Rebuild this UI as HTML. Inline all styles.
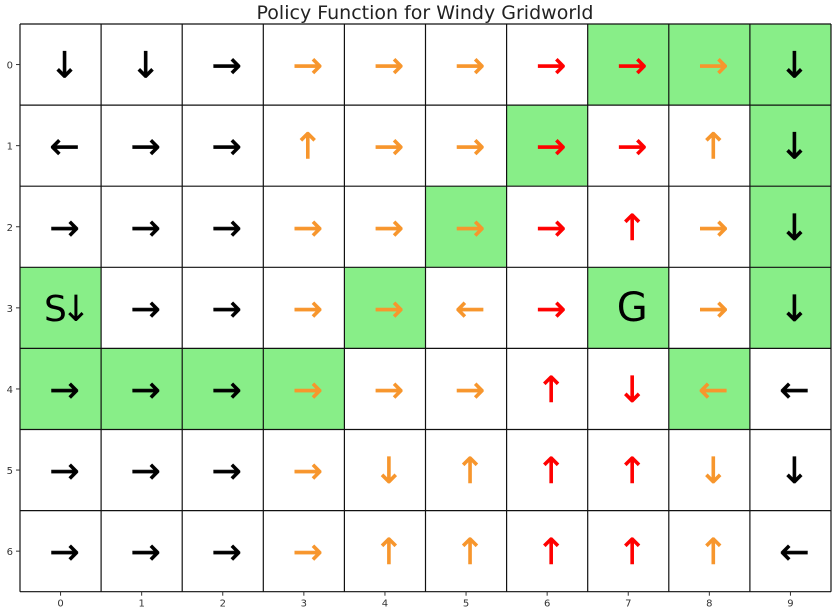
<!DOCTYPE html>
<html><head><meta charset="utf-8"><style>
html,body{margin:0;padding:0;background:#fff;}
svg{display:block;font-family:"DejaVu Sans","Liberation Sans",sans-serif;}
</style></head><body>
<svg id="chart" width="837" height="614">
<text x="425" y="19" text-anchor="middle" font-size="19" fill="#222">Policy Function for Windy Gridworld</text>
<g id="cells"></g>
<g id="grid"></g>
<g id="ticks"></g>
</svg>
<script>
const policy = [
 "DDRRRRRRRD",
 "LRRURRRRUD",
 "RRRRRRRURD",
 "SRRRRLRGRD",
 "RRRRRRUDLL",
 "RRRRDUUUDD",
 "RRRRUUUUUL"
];
const greenCells = [[0,7],[0,8],[0,9],[1,6],[1,9],[2,5],[2,9],[3,0],[3,4],[3,7],[3,9],[4,0],[4,1],[4,2],[4,3],[4,8]];
const windColumns = [0,0,0,1,1,1,2,2,1,0];
const colLabels = ["0","1","2","3","4","5","6","7","8","9"];
const rowLabels = ["0","1","2","3","4","5","6"];

const X0=20,Y0=24,CW=81.1,CH=81.1;
const xs=c=>X0+c*CW, ys=r=>Y0+r*CH;
const NS="http://www.w3.org/2000/svg";
const glyph={U:"↑",D:"↓",L:"←",R:"→"};
const colors=["#000","#f7962d","#ff0000"];
const cells=document.getElementById('cells'),grid=document.getElementById('grid'),ticks=document.getElementById('ticks');
function mk(t,a,p){const e=document.createElementNS(NS,t);for(const k in a)e.setAttribute(k,a[k]);p.appendChild(e);return e;}
greenCells.forEach(([r,c])=>{
 const e=mk('rect',{x:xs(c),y:ys(r),width:CW,height:CH,fill:'#88ee88'},cells);
 
 
});
policy.forEach((row,r)=>{
 [...row].forEach((ch,c)=>{
  const cx=xs(c)+CW/2, cy=ys(r)+CH/2;
  let txt,fill=colors[windColumns[c]],size=36,ls=0,sw=0.6;
  if(ch==='S'){txt='S↓';fill='#000';ls=-6;sw=0;}
  else if(ch==='G'){txt='G';fill='#000';size=40;sw=0;}
  else txt=glyph[ch];
  const e=mk('text',{x:cx+4,y:cy+13,'text-anchor':'middle','font-size':size,fill:fill,stroke:fill,'stroke-width':sw,'letter-spacing':ls},cells);
  e.textContent=txt;
  
  
 });
});
for(let c=0;c<=10;c++){const l=mk('line',{x1:xs(c),x2:xs(c),y1:Y0,y2:ys(7),stroke:'#111','stroke-width':1.2},grid);}
for(let r=0;r<=7;r++){const l=mk('line',{x1:X0,x2:xs(10),y1:ys(r),y2:ys(r),stroke:'#111','stroke-width':1.2},grid);}
colLabels.forEach((t,i)=>{
 const x=xs(i)+CW/2;
 mk('line',{x1:x,x2:x,y1:ys(7),y2:ys(7)+4,stroke:'#333'},ticks);
 const e=mk('text',{x:x,y:ys(7)+15,'text-anchor':'middle','font-size':10,fill:'#333'},ticks);
 e.textContent=t;
 
 
});
rowLabels.forEach((t,i)=>{
 const y=ys(i)+CH/2;
 mk('line',{x1:X0-4,x2:X0,y1:y,y2:y,stroke:'#333'},ticks);
 const e=mk('text',{x:X0-7,y:y+4,'text-anchor':'end','font-size':10,fill:'#333'},ticks);
 e.textContent=t;
 
 
});
</script>
</body></html>
